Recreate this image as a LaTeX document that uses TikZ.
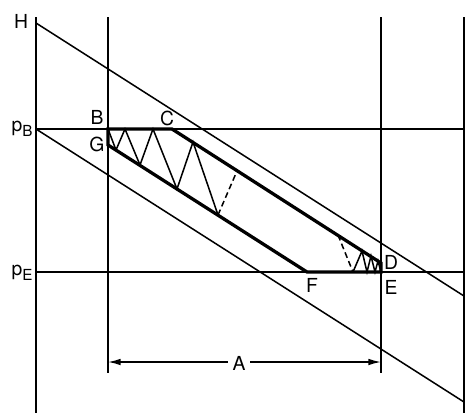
\documentclass[tikz,border=0pt]{standalone}
\usepackage{fontspec}
\setmainfont{TeX Gyre Heros}
\usepackage{tikz}
\usetikzlibrary{arrows.meta, positioning}

\begin{document}
\begin{tikzpicture}[
  x=0.03cm, y=-0.03cm,
  grid/.style={line width=1.3pt, black},
  bound/.style={line width=2.8pt, black, line join=miter},
  zig/.style={line width=1.3pt, black, line join=miter},
  zigdash/.style={zig, dashed, dash pattern=on 5pt off 3pt},
  lbl/.style={font=\fontsize{16.5}{18}\selectfont, inner sep=1pt},
  dim/.style={{Latex[length=3.8mm, width=2mm]}-{Latex[length=3.8mm, width=2mm]}, line width=1.3pt}
]
  \useasboundingbox (0,0) rectangle (475,413);

  \coordinate (B) at (108,129);
  \coordinate (C) at (172,129);
  \coordinate (D) at (381,263);
  \coordinate (E) at (381,272);
  \coordinate (F) at (307,272);
  \coordinate (G) at (108,145);
  \coordinate (H) at (36,23);
  \coordinate (pB) at (36,129);
  \coordinate (pE) at (36,272);

  \draw[grid] (36,17) -- (36,413);
  \draw[grid] (108,17) -- (108,373);
  \draw[grid] (381,17) -- (381,373);
  \draw[grid] (464,17) -- (464,413);
  \draw[grid] (pB) -- (464,129);
  \draw[grid] (pE) -- (464,272);
  \draw[grid] (H) -- (464,296);
  \draw[grid] (pB) -- (464,402);

  \draw[bound] (G) -- (B) -- (C) -- (D) -- (E) -- (F) -- cycle;

  \draw[zig] (B) -- (116,150) -- (125,129) -- (140,165) -- (153,129)
    -- (177,189) -- (193,142) -- (218,215);
  \draw[zigdash] (218,215) -- (237,171);
  \draw[zigdash] (338,235) -- (353,272);
  \draw[zig] (353,272) -- (362,251) -- (367,272) -- (371,256) -- (375,272)
    -- (378,261) -- (E);

  \node[lbl] (labH) at (21,21) {H};
  \node[lbl, anchor=east] (labpB) at (34,129) {p\raisebox{-0.5ex}{\fontsize{13}{15}\selectfont B}};
  \node[lbl, anchor=east] (labpE) at (34,273) {p\raisebox{-0.5ex}{\fontsize{13}{15}\selectfont E}};
  \node[lbl] (labB) at (97,117) {B};
  \node[lbl] (labC) at (167,118) {C};
  \node[lbl] (labG) at (97,144) {G};
  \node[lbl] (labD) at (391,262) {D};
  \node[lbl] (labE) at (391,287) {E};
  \node[lbl] (labF) at (312,285) {F};

  \coordinate (aL) at (108,362);
  \coordinate (aR) at (381,362);
  \draw[dim] (aL) -- (aR);
  \node[lbl, fill=white, inner sep=4pt] (labA) at (239,363) {A};
\end{tikzpicture}
\end{document}
